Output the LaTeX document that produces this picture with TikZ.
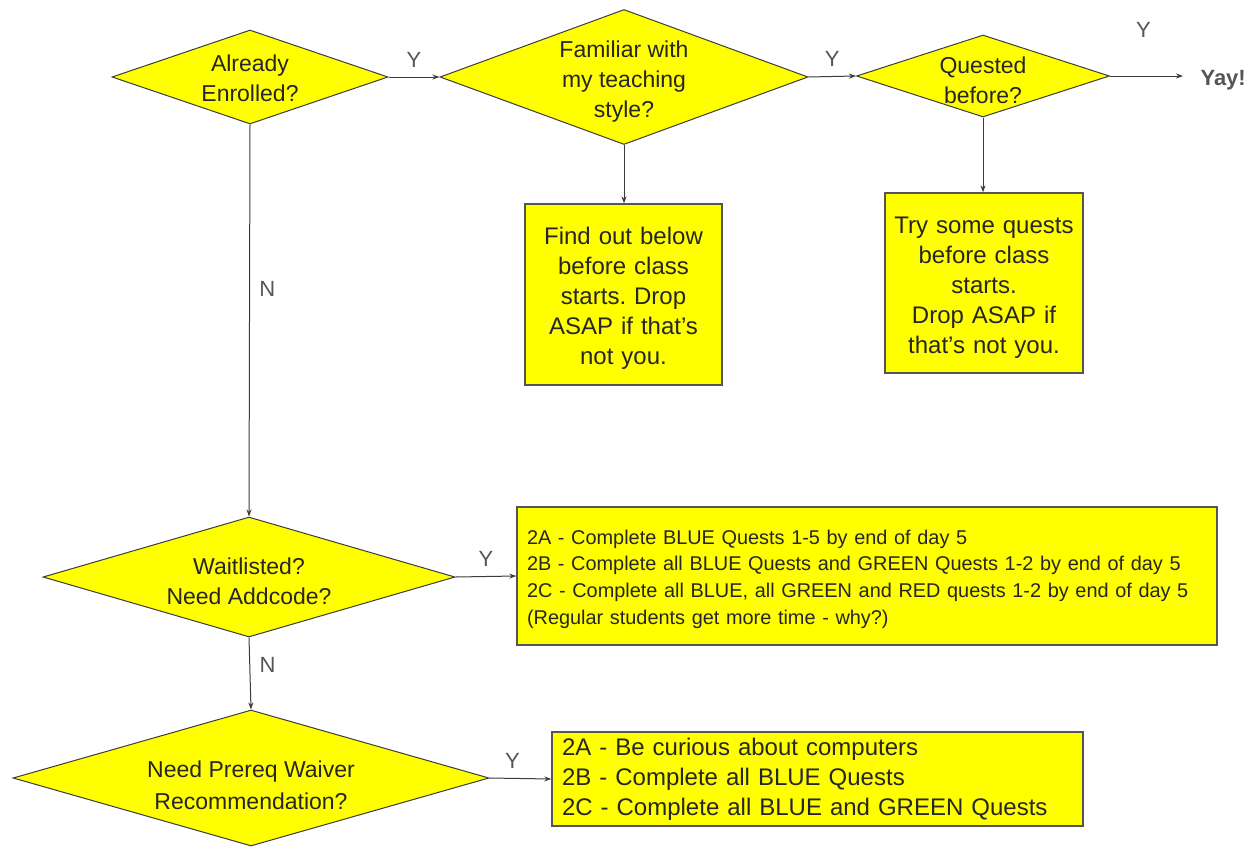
\documentclass[tikz,border=0pt]{standalone}
\usepackage{fontspec}
\setmainfont{Liberation Sans}
\usetikzlibrary{shapes.geometric,arrows.meta}

\definecolor{qyellow}{HTML}{FFFF00}
\definecolor{qline}{HTML}{3C3C3C}
\definecolor{qgray}{HTML}{555555}

\frenchspacing
\tikzset{
  decision/.style={diamond, draw=qline, fill=qyellow, inner sep=0pt, line width=1pt},
  dtext/.style={align=center, text=black!85, font=\fontsize{23}{30}\selectfont},
  infobox/.style={rectangle, draw=qgray, fill=qyellow, line width=1.3pt, inner xsep=10pt,
    text=black!85, font=\fontsize{24}{30}\selectfont},
  flow/.style={draw=qline, line width=1pt, -{Stealth[length=7pt,width=5pt]}},
  yn/.style={text=qgray, font=\fontsize{22}{26}\selectfont},
}

\begin{document}
\begin{tikzpicture}[x=1pt,y=-1pt]
  \useasboundingbox (0,0) rectangle (1255,846);

  % question diamonds
  \node[decision, minimum width=276, minimum height=94] (enr) at (250,77) {};
  \node[dtext] at ([yshift=-1]enr) {Already\\Enrolled?};
  \node[decision, minimum width=368, minimum height=135] (fam) at (624,77) {};
  \node[dtext] at ([yshift=-5]fam) {Familiar with\\my teaching\\style?};
  \node[decision, minimum width=253, minimum height=82] (qst) at (983,76) {};
  \node[dtext] at ([yshift=-4]qst) {Quested\\before?};
  \node[decision, minimum width=412, minimum height=120] (wait) at (249,577) {};
  \node[dtext] at ([yshift=-4]wait) {Waitlisted?\\Need Addcode?};
  \node[decision, minimum width=476, minimum height=136] (prq) at (251,778) {};
  \node[dtext, font=\fontsize{23}{32}\selectfont] at ([yshift=-7]prq) {Need Prereq Waiver\\Recommendation?};

  \node[yn, font=\fontsize{22}{26}\selectfont\bfseries, anchor=west] (yay) at (1197,80) {Yay!};

  % answer boxes
  \node[infobox, text width=177, align=center, minimum height=181] (find) at (623.5,294.5)
    {\raisebox{-4pt}[\height][\depth]{\parbox{177pt}{\centering Find out below\\before class\\starts. Drop\\ASAP if that's\\not you.}}};
  \node[infobox, text width=180, inner xsep=9pt, align=center, minimum height=180] (try) at (984,283)
    {\raisebox{-5pt}[\height][\depth]{\parbox{180pt}{\centering Try some quests\\before class\\starts.\\Drop ASAP if\\that's not you.}}};
  \node[infobox, text width=680, align=left, minimum height=138,
    font=\fontsize{19.9}{26.7}\selectfont] (early) at (867,576)
    {\raisebox{-3pt}[\height][\depth]{\parbox{680pt}{2A - Complete BLUE Quests 1-5 by end of day 5\\
     2B - Complete all BLUE Quests and GREEN Quests 1-2 by end of day 5\\
     2C - Complete all BLUE, all GREEN and RED quests 1-2 by end of day 5\\
     (Regular students get more time - why?)}}};
  \node[infobox, text width=511, align=left, minimum height=94] (waiver) at (817.5,779)
    {2A - Be curious about computers\\
     2B - Complete all BLUE Quests\\
     2C - Complete all BLUE and GREEN Quests};

  % connectors
  \draw[flow] (enr.east) -- node[yn, above=6pt] {Y} (fam.west);
  \draw[flow] (fam.east) -- node[yn, above=6pt] {Y} (qst.west);
  \draw[flow, shorten >=14pt] (qst.east) -- node[yn, above=35pt, xshift=-10pt] {Y} (qst.east -| yay.west);
  \draw[flow] (fam.south) -- (find.north -| fam.south);
  \draw[flow] (qst.south) -- (try.north -| qst.south);
  \draw[flow] (enr.south) -- node[yn, right=6pt, pos=0.42] {N} (wait.north);
  \draw[flow] (wait.east) -- node[yn, above=6pt] {Y} (early.west);
  \draw[flow] (wait.south) -- node[yn, right=6pt, pos=0.38] {N} (prq.north);
  \draw[flow] (prq.east) -- node[yn, above=6pt, xshift=-8pt] {Y} (waiver.west);
\end{tikzpicture}
\end{document}
